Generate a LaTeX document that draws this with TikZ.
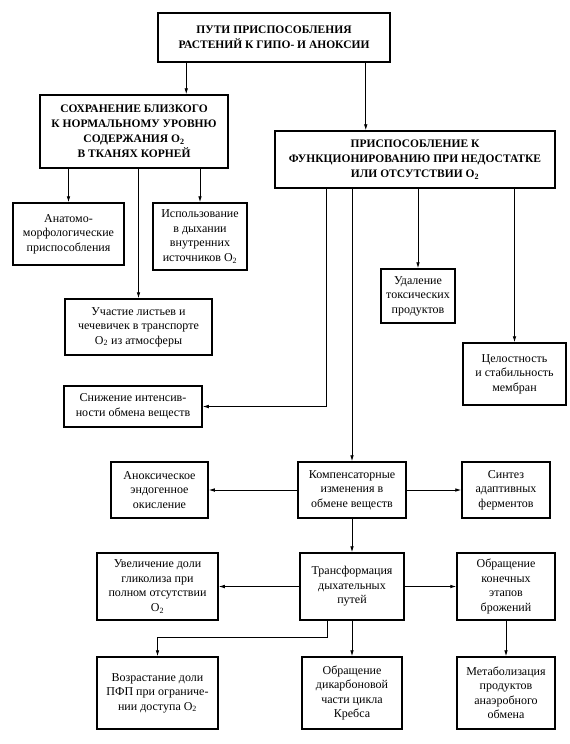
\documentclass[tikz,border=0pt]{standalone}
\usepackage{fontspec}
\setmainfont{Liberation Serif}
\usetikzlibrary{arrows.meta}
\tikzset{
	blk/.style={draw, line width=1.5pt, align=center, inner sep=2pt, font=\fontsize{12}{14.5}\selectfont},
	capsblk/.style={blk, font=\bfseries\fontsize{11.5}{15}\selectfont},
	arr/.style={-{Latex[length=6pt,width=3.6pt]}, line width=0.8pt}
}

\begin{document}
\begin{tikzpicture}[x=1pt,y=-1pt]
				\useasboundingbox[fill=white] (0,0) rectangle (570,744);
				
				\node[capsblk, minimum width=232pt, minimum height=49pt] (title) at (274,37.5) {ПУТИ ПРИСПОСОБЛЕНИЯ\\РАСТЕНИЙ К ГИПО- И АНОКСИИ};
				\node[capsblk, minimum width=188pt, minimum height=73pt] (sohr) at (134,131.5) {СОХРАНЕНИЕ БЛИЗКОГО\\К НОРМАЛЬНОМУ УРОВНЮ\\СОДЕРЖАНИЯ O\textsubscript{2}\\В ТКАНЯХ КОРНЕЙ};
				\node[capsblk, minimum width=280pt, minimum height=57pt] (prisp) at (415,159.5) {ПРИСПОСОБЛЕНИЕ К\\ФУНКЦИОНИРОВАНИЮ ПРИ НЕДОСТАТКЕ\\ИЛИ ОТСУТСТВИИ O\textsubscript{2}};
				
				\node[blk, minimum width=111pt, minimum height=62pt] (anat) at (68.5,234) {Анатомо-\\морфологические\\приспособления};
				\node[blk, minimum width=94pt, minimum height=67pt] (ispol) at (200,236.5) {Использование\\в дыхании\\внутренних\\источников O\textsubscript{2}};
				\node[blk, minimum width=147pt, minimum height=56pt] (uchast) at (138.5,327) {Участие листьев и\\чечевичек в транспорте\\O\textsubscript{2} из атмосферы};
				\node[blk, minimum width=138pt, minimum height=41pt] (snizh) at (133,406.5) {Снижение интенсив-\\ности обмена веществ};
				\node[blk, minimum width=74pt, minimum height=54pt] (udal) at (418,296) {Удаление\\токсических\\продуктов};
				\node[blk, minimum width=103pt, minimum height=62pt] (celost) at (514.5,374) {Целостность\\и стабильность\\мембран};
				
				\node[blk, minimum width=97pt, minimum height=56pt] (anox) at (159.5,490) {Аноксическое\\эндогенное\\окисление};
				\node[blk, minimum width=108pt, minimum height=56pt] (komp) at (352,490) {Компенсаторные\\изменения в\\обмене веществ};
				\node[blk, minimum width=88pt, minimum height=56pt] (sint) at (506,490) {Синтез\\адаптивных\\ферментов};
				
				\node[blk, minimum width=121pt, minimum height=67pt] (uvel) at (157.5,586.5) {Увеличение доли\\гликолиза при\\полном отсутствии\\O\textsubscript{2}};
				\node[blk, minimum width=104pt, minimum height=67pt] (trans) at (352,586.5) {Трансформация\\дыхательных\\путей};
				\node[blk, minimum width=98pt, minimum height=67pt] (obr) at (506,586.5) {Обращение\\конечных\\этапов\\брожений};
				
				\node[blk, minimum width=121pt, minimum height=72pt] (vozr) at (157.5,693) {Возрастание доли\\ПФП при ограниче-\\нии доступа O\textsubscript{2}};
				\node[blk, minimum width=100pt, minimum height=72pt] (dikarb) at (352,693) {Обращение\\дикарбоновой\\части цикла\\Кребса};
				\node[blk, minimum width=98pt, minimum height=72pt] (metab) at (506,693) {Метаболизация\\продуктов\\анаэробного\\обмена};
				
				\draw[arr] ([xshift=29pt]title.south west) -- ([xshift=29pt]title.south west |- sohr.north);
				\draw[arr] ([xshift=-25pt]title.south east) -- ([xshift=-25pt]title.south east |- prisp.north);
				
				\draw[arr] (sohr.south -| anat.north) -- (anat.north);
				\draw[arr] (sohr.south -| ispol.north) -- (ispol.north);
				\draw[arr] (sohr.south -| uchast.north) -- (uchast.north);
				
				\draw[arr] ([xshift=52pt]prisp.south west) |- (snizh.east);
				\draw[arr] (prisp.south -| komp.north) -- (komp.north);
				\draw[arr] (prisp.south -| udal.north) -- (udal.north);
				\draw[arr] (prisp.south -| celost.north) -- (celost.north);
				
				\draw[arr] (komp.west) -- (anox.east);
				\draw[arr] (komp.east) -- (sint.west);
				\draw[arr] (komp.south) -- (trans.north);
				
				\draw[arr] (trans.west) -- (uvel.east);
				\draw[arr] (trans.east) -- (obr.west);
				\draw[arr] (trans.south) -- (dikarb.north);
				\draw[arr] ([xshift=-25pt]trans.south) -- ++(0,17) -| (vozr.north);
				\draw[arr] (obr.south) -- (metab.north);
			\end{tikzpicture}
\end{document}
